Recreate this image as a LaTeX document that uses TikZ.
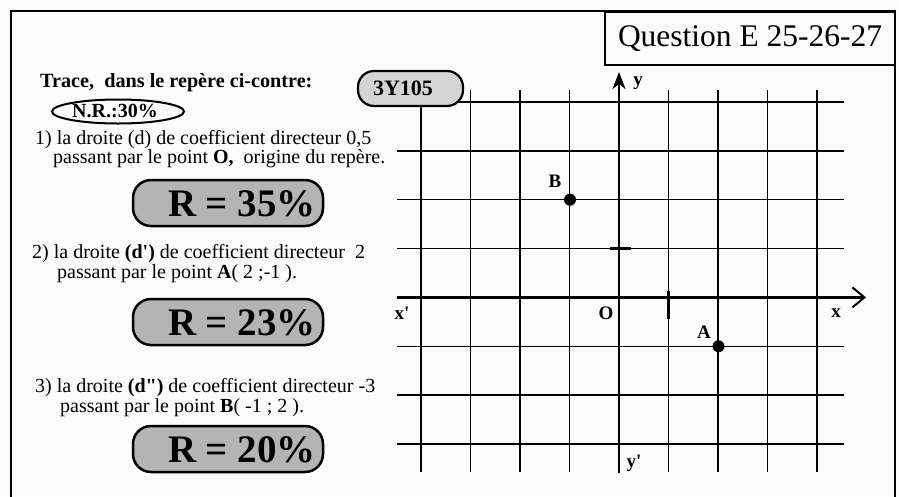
\documentclass[tikz,border=0pt]{standalone}
\usepackage{fontspec}
\newfontfamily\tf{Liberation Serif}
\usetikzlibrary{arrows.meta,shapes.geometric}
\definecolor{rboxfill}{RGB}{180,180,180}
\definecolor{lboxfill}{RGB}{212,212,212}
\definecolor{paper}{RGB}{251,251,251}
\begin{document}
\begin{tikzpicture}[x=1pt,y=-1pt,
  txt/.style={font={\tf\fontsize{20}{20}\selectfont}, inner sep=0pt, anchor=base west, text height=12pt, text depth=3pt},
  btxt/.style={font={\tf\bfseries\fontsize{20.2}{20}\selectfont}, inner sep=0pt, anchor=base west, text height=12pt, text depth=3pt},
  lbl/.style={font={\tf\bfseries\fontsize{19}{19}\selectfont}, inner sep=0pt},
  rbox/.style={draw, line width=2.5pt, fill=rboxfill, rounded corners=18pt, minimum width=190pt, minimum height=46pt, inner sep=0pt},
  rtxt/.style={font={\tf\bfseries\fontsize{39}{39}\selectfont}, inner sep=0pt},
  grid line/.style={line width=1.4pt},
  axis line/.style={line width=2.4pt},
  dot/.style={circle, fill=black, minimum size=12pt, inner sep=0pt}]
\useasboundingbox (0,0) rectangle (899,496);
\fill[paper] (0,0) rectangle (899,496);
% outer frame
\draw[line width=2pt] (11,520) -- (11,11) -- (895,11) -- (895,520);
% question box
\node[draw, line width=2.2pt, fill=paper, minimum width=290pt, minimum height=53pt, anchor=north west,
      font={\tf\fontsize{31.5}{32}\selectfont}, inner sep=0pt] (q) at (604,11) {Question E 25-26-27};
% grid
\foreach \k in {-4,-3,-2,-1,1,2,3,4}
  \draw[grid line] ({619+49.5*\k},90) -- ({619+49.5*\k},472);
\foreach \j in {4,3,2,1,-1,-2,-3}
  \draw[grid line] (397,{297.4-48.86*\j}) -- (844,{297.4-48.86*\j});
% axes
\coordinate (xs) at (397,297.4);
\coordinate (xe) at (866,297.4);
\coordinate (ys) at (619,473);
\coordinate (ye) at (619,72);
\draw[axis line, -{Straight Barb[length=12pt,width=20pt,line width=2pt]}] (xs) -- (xe);
\draw[axis line, -{Stealth[length=17pt,width=13pt,inset=5pt]}] (ys) -- (ye);
% ticks
\draw[line width=3pt] (610,248.5) -- (631,248.5);
\draw[line width=3pt] (668.5,291) -- (668.5,319);
% points
\node[dot] (B) at (570,199.7) {};
\node[dot] (A) at (718.5,346.3) {};
% axis labels
\node[lbl] (lxp) at (402,313) {x'};
\node[lbl] (lO) at (606,313) {O};
\node[lbl] (lx) at (836,313) {x};
\node[lbl] (ly) at (638,83) {y};
\node[lbl] (lyp) at (634,463) {y'};
\node[lbl] (lA) at (704,332) {A};
\node[lbl] (lB) at (555,181) {B};
% 3Y105 label
\node[draw, line width=2.2pt, fill=lboxfill, rounded corners=16pt, minimum width=105pt, minimum height=35pt, inner sep=0pt] (code) at (410.5,88.5) {};
\node[font={\tf\bfseries\fontsize{22}{22}\selectfont}, inner sep=0pt] (codet) at (403,88) {3Y105};
% left text
\node[btxt] (t0) at (40,87) {Trace,\ \ dans le repère ci-contre:};
\node[draw, ellipse, line width=2pt, minimum width=132pt, minimum height=24pt, inner sep=0pt] (nr) at (118,111.5) {};
\node[font={\tf\bfseries\fontsize{20}{20}\selectfont}, inner sep=0pt] (nrt) at (115,111) {N.R.:30\%};
\node[txt] (t1a) at (35,144) {1) la droite (d) de coefficient directeur 0,5};
\node[txt] (t1b) at (53,163) {passant par le point \textbf{O,}\ \ origine du repère.};
\node[rbox] (r1) at (228,203) {};
\node[rtxt] (r1t) at (242,204) {R = 35\%};
\node[txt] (t2a) at (32,258) {2) la droite \textbf{(d')} de coefficient directeur\ \ 2};
\node[txt] (t2b) at (57,278) {passant par le point \textbf{A}( 2 ;-1 ).};
\node[rbox] (r2) at (228,322) {};
\node[rtxt] (r2t) at (242,323) {R = 23\%};
\node[txt] (t3a) at (35,392) {3) la droite \textbf{(d")} de coefficient directeur -3};
\node[txt] (t3b) at (60,412) {passant par le point \textbf{B}( -1 ; 2 ).};
\node[rbox] (r3) at (228,449) {};
\node[rtxt] (r3t) at (242,450) {R = 20\%};
\end{tikzpicture}
\end{document}
